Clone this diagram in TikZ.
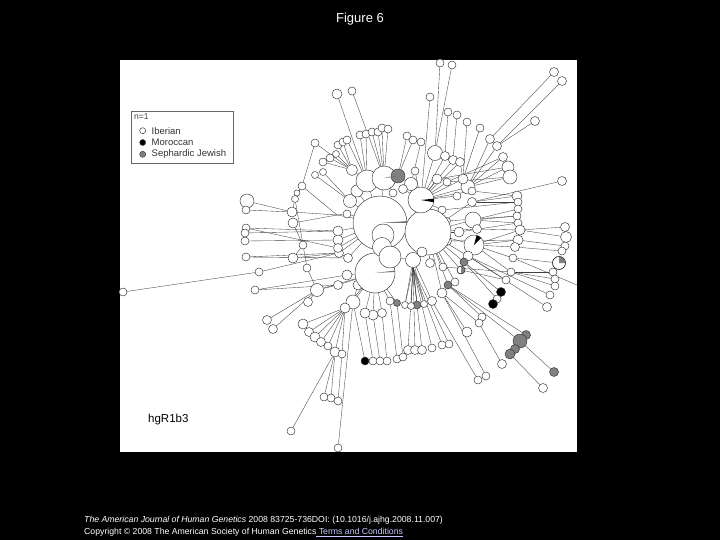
\documentclass[tikz,border=0pt]{standalone}
\usepackage{fontspec}
\setmainfont{Liberation Sans}
\pgfdeclarelayer{bg}
\pgfsetlayers{bg,main}
\begin{document}
\begin{tikzpicture}[x=1pt,y=-1pt,
  hap/.style={circle,draw=black!80,line width=0.45pt,inner sep=0pt,minimum size=#1pt},
  edge/.style={draw=black!75,line width=0.35pt},
  legtext/.style={anchor=west,inner sep=0pt,text=black!80,font=\fontsize{9.5}{10}\selectfont}]
\useasboundingbox (0,0) rectangle (720,540);
\begin{pgfonlayer}{bg}
\fill[black] (0,0) rectangle (720,540);
\fill[white] (120,60) rectangle (577,452);
\end{pgfonlayer}
% ring haplotypes (drawn first, under the core)
\foreach \n/\x/\y/\d/\f in {
 r1/350/201/13/white, r2/338/231/10/white, r3/338/240/10/white, r4/339/253/9/white,
 r5/347/275/10/white, r7/352/170/11/white, r9/347/214/8/white, r10/393/193/8/white,
 r11/415/171/8/white, r12/468/187/14/white, r13/463/179/10/white, r14/473/220/16/white,
 r15/474/245/20/white, r16/468/256/10/white, r17/464/262/8/gray, r19/472/202/9/white,
 r20/457/196/8/white, r21/448/285/8/gray, r22/442/293/10/white, r23/432/301/9/white,
 r24/417/305/8/gray, r25/405/305/7/white, r26/397/303/7/gray, r27/390/301/8/white,
 r28/382/313/9/white, r29/373/315/10/white, r30/365/313/10/white, r31/353/302/14/white,
 r32/345/308/10/white, r33/317/290/13/white, r34/308/302/9/white, r35/303/245/8/white,
 r36/307/268/8/white, r37/293/258/10/white, r38/293/223/10/white, r39/292/212/10/white,
 r40/302/186/8/white, r41/295/199/7/white, r41b/297/193/6/white,
 r50/472/191/8/white, r51/477/229/9/white, r60/411/306/7/white, r61/424/304/7/white,
 r62/455/282/8/white, r70/357/191/12/white, r71/348/258/9/white, r72/358/285/10/white,
 r73/338/285/9/white, r74/338/248/9/white, r75/459/232/10/white, r76/447/241/9/white,
 r77/430/263/9/white, r78/443/267/8/white, r79/437/179/10/white, r80/447/182/8/white,
 r81/442/210/8/white, r82/447/221/7/white, r83/461/270/8/white}
 \node[hap=\d,fill=\f] (\n) at (\x,\y) {};
% core haplotypes
\foreach \n/\x/\y/\d/\f in {
 A/380/223/54/white, B/428/232/46/white, C/375/273/40/white,
 D/421/200/26/white, F/367/181/22/white, E/384/178/24/white, G/398/176/14/gray,
 H/411/184/13/white, H2/403/189/9/white,
 I1/383/235/22/white, I2/382/247/19/white, I3/390/257/22/white,
 I4/413/260/15/white, I5/422/252/10/white}
 \node[hap=\d,fill=\f] (\n) at (\x,\y) {};
% outer haplotypes
\foreach \n/\x/\y/\d/\f in {
 t1/337/94/10/white, t2/352/91/8/white, t3/315/143/8/white, t4/360/135/8/white,
 t5/366/134/8/white, t6/372/132/8/white, t7/378/132/8/white, t8/382/128/8/white,
 t9/388/129/8/white, t10/338/145/8/white, t11/343/142/8/white, t12/347/140/8/white,
 t13/323/162/8/white, t14/330/158/8/white, t15/315/175/7/white, t16/323/172/7/white,
 t17/407/136/8/white, t18/413/140/8/white, t19/421/142/8/white, t20/430/97/8/white,
 t21/440/63/8/white, t22/452/65/8/white, n1/435/153/15/white, t23/448/112/8/white,
 t24/457/115/8/white, n2/445/156/9/white, n3/453/160/9/white, n4/460/162/9/white,
 t25/554/72/9/white, t26/562/81/9/white, t27/535/121/9/white, n5/490/139/9/white,
 n6/497/146/9/white, t28/480/128/8/white, t28b/467/122/8/white, t29/503/157/9/white,
 t30/508/167/12/white, t31/510/177/14/white, t32/562/181/9/white, t33/517/196/10/white,
 t34/518/202/8/white, t35/518/209/8/white, t36/517/216/8/white, t37/518/223/8/white,
 n7/520/230/10/white, t38/565/227/9/white, t39/566/237/11/white, n8/518/240/10/white,
 t40/565/246/8/white, n9/515/247/9/white, t41/562/251/8/white, n10/513/258/8/white,
 t42/559/263/13/white, n11/511/272/8/white, t43/553/272/8/white, t44/555/279/8/white,
 t45/555/286/8/white, t47/550/295/8/white, t48/547/307/9/white, t49/506/280/8/white,
 k1/501/292/9/black, n12/497/299/8/white, k2/493/304/9/black,
 g1/526/335/9/gray, g2/520/341/14/gray, g3/515/349/9/gray, g4/510/354/10/gray,
 g5/554/372/9/gray, t54/543/388/9/white, n13/482/317/8/white, n14/479/323/8/white,
 t50/502/364/9/white, t51/478/380/8/white, t52/486/376/8/white, t53/467/332/10/white,
 b1/365/361/8/black, b2/373/361/8/white, b3/380/361/8/white, b4/387/361/8/white,
 b5/397/359/8/white, b6/403/357/8/white, b7/408/350/9/white, b8/415/350/9/white,
 b9/422/350/9/white, b10/432/348/8/white, b11/442/345/8/white, b12/449/344/8/white,
 c1/303/324/10/white, c2/309/332/9/white, c3/315/337/10/white, c4/321/342/9/white,
 c5/328/346/8/white, c6/335/352/10/white, c7/342/354/8/white,
 bl1/324/397/8/white, bl2/331/398/8/white, bl3/338/401/8/white, bl4/291/431/8/white,
 bl5/338/448/8/white,
 l1/247/201/14/white, l2/246/210/8/white, l3/246/228/8/white, l4/245/233/8/white,
 l5/245/241/8/white, l6/246/257/8/white, l7/259/272/8/white, l8/123/292/8/white,
 l9/255/290/8/white, l10/267/320/9/white, l11/273/329/9/white, t60/336/154/7/white}
 \node[hap=\d,fill=\f] (\n) at (\x,\y) {};
\coordinate (PL) at (337,215);
\coordinate (PB) at (413,268);
\coordinate (e1) at (577,285);
% wedges (partial frequencies)
\fill[black] (D.center) -- ++(-6:13) arc[start angle=-6,end angle=10,radius=13] -- cycle;
\fill[black!55] (A.center) -- ++(-4:27) arc[start angle=-4,end angle=0,radius=27] -- cycle;
\fill[black!55] (C.center) -- ++(-7:20) arc[start angle=-7,end angle=-3,radius=20] -- cycle;
\fill[black!55] (E.center) -- ++(-12:12) arc[start angle=-12,end angle=-5,radius=12] -- cycle;
\fill[black] (r15.center) -- ++(-75:10) arc[start angle=-75,end angle=-45,radius=10] -- cycle;
\fill[gray] (t42.center) -- ++(-90:6.5) arc[start angle=-90,end angle=0,radius=6.5] -- cycle;
\draw[draw=black!80,line width=0.45pt] (t42.center) circle[radius=6.5];
\fill[gray] (r83.center) -- ++(-90:4) arc[start angle=-90,end angle=90,radius=4] -- cycle;
\draw[draw=black!80,line width=0.45pt] (r83.center) circle[radius=4];
% connectors
\begin{pgfonlayer}{bg}
\foreach \a/\b in {
 A/B, A/C, A/E, A/F, B/D, E/G, G/H, H/D, A/I1, I1/I2, I2/I3, I3/I4, I4/B, I5/B, H2/D,
 r1/A, r2/A, r3/A, r4/A, r5/C, r7/F, r9/A, r10/E, r11/D, r12/D, r13/D, r14/B, r15/B,
 r16/B, r17/B, r19/B, r20/D, r21/B, r22/B, r23/I4, r24/I4, r25/I4, r26/C, r27/C,
 r28/C, r29/C, r30/C, r31/C, r32/C, r33/C, r34/r33, r35/r37, r36/r33, r37/r4,
 r38/PL, r39/PL, r40/PL, r41/r40, PL/A, r41/r35, r35/r36, t3/r40, r40/r41b, r41b/r41,
 r41/r39, r38/r35, r50/D, r51/B, r60/I4, r61/I4, r62/B, r70/A, r71/A, r72/C, r73/C,
 r74/A, r75/B, r76/B, r77/B, r78/B, r79/D, r80/D, r81/D, r82/B, r83/B,
 r72/r31, r73/r33, r9/PL, r71/r4,
 t1/F, t2/E, t3/r7, t4/F, t5/F, t6/E, t7/E, t8/E, t9/E, t10/r7, t11/r7, t12/F,
 t13/r7, t14/r7, t15/r1, t16/r1, t17/G, t18/G, t19/H, t20/D, t21/n1, t22/n1, n1/D,
 t23/n2, t24/n3, n2/D, n3/D, n4/D, t25/n5, t26/n6, t27/n6, n5/r12, n6/r12,
 t28/r13, t28b/r13, t29/r12, t30/r12, t31/r12, t32/r19, t33/r19, t34/r19,
 t35/r14, t36/r14, t37/r14, n7/r15, t38/n7, t39/n7, n8/r15, t40/n8, n9/r15,
 t41/n9, n10/r15, t42/n10, n11/r15, t43/n11, t44/n11, t45/n11, e1/n10,
 t47/r16, t48/r16, t49/r16, k1/r17, n12/r17, k2/n12, g1/r21, g2/r21, g3/g2,
 g4/g3, g5/g2, t54/g4, n13/r21, n14/r22, t50/n14, t51/r23, t52/r22, t53/r22,
 b1/r31, b2/r30, b3/r29, b4/r28, b5/r27, b6/r26, b7/PB, b8/PB, b9/PB, b10/PB,
 b11/PB, b12/PB, PB/I4, PB/r24, PB/r25, PB/r60, PB/r61,
 c1/r32, c2/r32, c3/r32, c4/r32, c5/r32, c6/r32, c7/r32,
 bl1/c6, bl2/c6, bl3/c7, bl4/c6, bl5/r31, t60/r7,
 t33/r50, t34/r81, t36/r82, t37/r75, n7/r51, n8/r76, n11/r78, t49/r83,
 t29/r80, t30/r79, t31/r80, n4/r13,
 l1/r39, l2/r39, l3/r2, l4/r2, l5/r3, l6/r4, l7/r4, l8/l7, l9/r5, l10/r33, l11/r33,
 l3/r74, l6/r71, l9/r73}
 \draw[edge] (\a) -- (\b);
\end{pgfonlayer}
% legend
\node[draw=black!60,line width=0.6pt,minimum width=101.6pt,minimum height=51.6pt,inner sep=0pt] (legbox) at (182.5,137.5) {};
\node[anchor=west,inner sep=0pt,text=black!75,font=\fontsize{8.5}{9}\selectfont] (legn) at (134,117) {n=1};
\node[hap=6,fill=white] (legi) at (142.7,130.7) {};
\node[hap=6,fill=black] (legm) at (142.7,142.5) {};
\node[hap=6,fill=gray] (legs) at (142.7,154.3) {};
\node[legtext] (legit) at (151.5,130.7) {Iberian};
\node[legtext] (legmt) at (151.5,142.5) {Moroccan};
\node[legtext] (legst) at (151.5,154.3) {Sephardic Jewish};
\node[anchor=base west,inner sep=0pt,font=\fontsize{11.5}{12}\selectfont] (hg) at (148,422.5) {hgR1b3};
% title and caption
\node[text=white,font=\fontsize{13}{14}\selectfont,inner sep=0pt] (title) at (360,19) {Figure 6};
\node[anchor=base west,inner sep=0pt,text=white,font=\fontsize{8.7}{9}\selectfont] (cap1) at (84,522) {\textit{The American Journal of Human Genetics} 2008 83725-736DOI: (10.1016/j.ajhg.2008.11.007)};
\node[anchor=base west,inner sep=0pt,text=white,font=\fontsize{8.7}{9}\selectfont] (cap2) at (84,534.5) {Copyright © 2008 The American Society of Human Genetics\textcolor[RGB]{200,200,255}{\underline{ Terms and Conditions}}};
\end{tikzpicture}
\end{document}
